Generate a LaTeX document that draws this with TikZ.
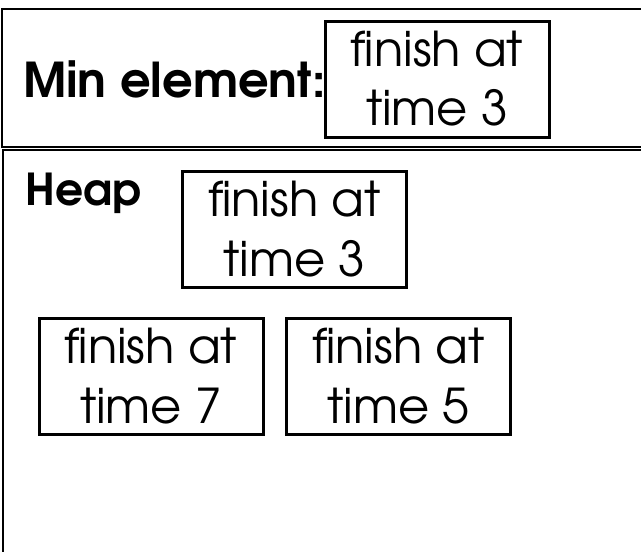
\documentclass[tikz,border=0pt]{standalone}
\usepackage{fontspec}
\setmainfont{TeX Gyre Adventor}
\usetikzlibrary{calc}
\begin{document}
\begin{tikzpicture}[x=1pt,y=1pt,
  frame/.style={draw, line width=2pt},
  itembox/.style={draw, line width=3pt, minimum width=224pt, minimum height=116pt, inner sep=0pt},
  itemtxt/.style={anchor=base, inner sep=0pt, font=\fontsize{48}{58}\selectfont},
  headtxt/.style={anchor=base west, inner sep=0pt, font=\fontsize{46}{56}\selectfont\bfseries}]
\useasboundingbox (0,0) rectangle (641,-552);
\begin{scope}
\clip (0,0) rectangle (641,-552);
\draw[frame] (2,-9) rectangle (700,-147);
\draw[frame] (3,-150) rectangle (700,-600);
\end{scope}
\node[headtxt, font=\fontsize{48}{58}\selectfont\bfseries] (minlbl) at (23,-97) {Min element:};
\node[headtxt, font=\fontsize{44}{54}\selectfont\bfseries] (heaplbl) at (25,-205) {Heap};
% min element box
\node[itembox] (minbox) at (437,-79) {};
\node[itemtxt] (minA) at ($(minbox.north)+(0,-47)$) {finish at};
\node[itemtxt] (minB) at ($(minbox.north)+(0,-106)$) {time 3};
% heap root
\node[itembox] (h1) at (294.5,-229.5) {};
\node[itemtxt] (h1A) at ($(h1.north)+(0,-46)$) {finish at};
\node[itemtxt] (h1B) at ($(h1.north)+(0,-106)$) {time 3};
% heap children
\node[itembox] (h2) at (151,-376.5) {};
\node[itemtxt] (h2A) at ($(h2.north)+(0,-46)$) {finish at};
\node[itemtxt] (h2B) at ($(h2.north)+(0,-106)$) {time 7};
\node[itembox] (h3) at (398.5,-376.5) {};
\node[itemtxt] (h3A) at ($(h3.north)+(0,-46)$) {finish at};
\node[itemtxt] (h3B) at ($(h3.north)+(0,-106)$) {time 5};
\end{tikzpicture}
\end{document}
